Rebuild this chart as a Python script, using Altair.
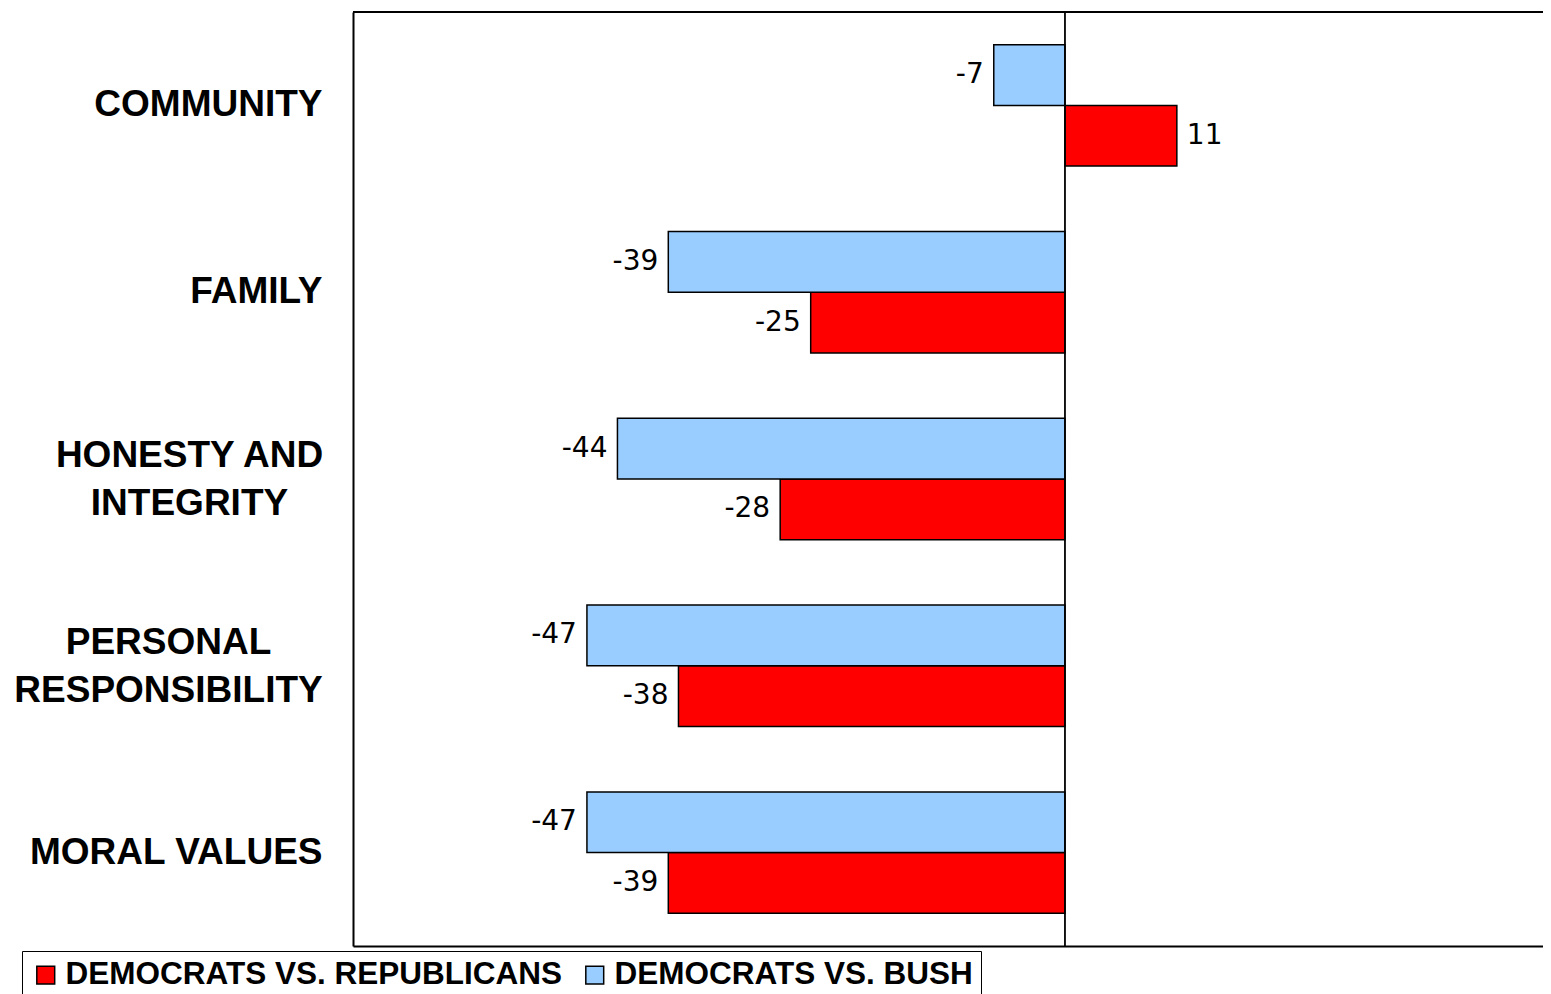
import altair as alt
import pandas as pd

categories = ["COMMUNITY", "FAMILY", "HONESTY AND|INTEGRITY", "PERSONAL|RESPONSIBILITY", "MORAL VALUES"]
series_names = ["DEMOCRATS VS. REPUBLICANS", "DEMOCRATS VS. BUSH"]
dem_vs_rep = [11, -25, -28, -38, -39]
dem_vs_bush = [-7, -39, -44, -47, -47]
colors = ["#FF0000", "#99CCFF"]

rows = []
for i, c in enumerate(categories):
    rows.append({"category": c, "series": series_names[0], "value": dem_vs_rep[i]})
    rows.append({"category": c, "series": series_names[1], "value": dem_vs_bush[i]})
df = pd.DataFrame(rows)

W, H = 1190, 934

multi_test = "indexof(datum.value, '|') >= 0"
label_align = {"condition": {"test": multi_test, "value": "center"}, "value": "right"}
label_offset = {"condition": {"test": multi_test, "value": -23}, "value": 0}
label_padding = {
    "condition": [
        {"test": "datum.value == 'HONESTY AND|INTEGRITY'", "value": 164},
        {"test": "datum.value == 'PERSONAL|RESPONSIBILITY'", "value": 185},
    ],
    "value": 31,
}

y_enc = alt.Y(
    "category:N",
    sort=categories,
    scale=alt.Scale(paddingInner=0.35, paddingOuter=0.175),
    axis=alt.Axis(
        title=None, ticks=False, tickSize=0, grid=False,
        domainColor="black", domainWidth=2,
        labelFont="Liberation Sans", labelFontWeight="bold", labelFontSize=37,
        labelColor="black", labelLineHeight=48, labelLimit=0,
        labelExpr="split(datum.value, '|')",
        labelAlign=label_align, labelPadding=label_padding, labelOffset=label_offset,
    ),
)
yoff = alt.YOffset(
    "series:N", sort=[series_names[1], series_names[0]],
    scale=alt.Scale(paddingInner=0, paddingOuter=0),
)
x_enc = alt.X(
    "value:Q",
    scale=alt.Scale(domain=[-70, 47], nice=False, zero=False),
    axis=alt.Axis(title=None, labels=False, ticks=False, grid=False,
                  domainColor="black", domainWidth=2),
)

base = alt.Chart(df).transform_calculate(txt="toString(datum.value)")

bars = base.mark_bar(stroke="black", strokeWidth=1.5).encode(
    x=x_enc, y=y_enc, yOffset=yoff,
    color=alt.Color(
        "series:N",
        scale=alt.Scale(domain=series_names, range=colors),
        legend=alt.Legend(
            title=None, orient="none", direction="horizontal",
            legendX=-331, legendY=939,
            symbolType="square", symbolSize=320,
            symbolStrokeColor="black", symbolStrokeWidth=1.5,
            labelFont="Liberation Sans", labelFontWeight="bold",
            labelFontSize=31.5, labelColor="black", labelLimit=0, labelOffset=4,
            columnPadding=17, padding=8, strokeColor="black",
        ),
    ),
)

neg_text = base.transform_filter("datum.value < 0").mark_text(
    align="right", baseline="middle", dx=-10, font="DejaVu Sans", fontSize=28, color="black"
).encode(x="value:Q", y=alt.Y("category:N", sort=categories), yOffset=yoff, text="txt:N")

pos_text = base.transform_filter("datum.value >= 0").mark_text(
    align="left", baseline="middle", dx=10, font="DejaVu Sans", fontSize=28, color="black"
).encode(x="value:Q", y=alt.Y("category:N", sort=categories), yOffset=yoff, text="txt:N")

one = pd.DataFrame({"z": [0]})
zero_line = alt.Chart(one).mark_rule(color="black", strokeWidth=1.8).encode(
    x=alt.datum(0, type="quantitative")
)
top_line = alt.Chart(one).mark_rule(color="black", strokeWidth=2).encode(
    x=alt.value(0), x2=alt.value(W), y=alt.value(0)
)

chart = alt.layer(bars, zero_line, top_line, neg_text, pos_text).properties(
    width=W, height=H,
    autosize=alt.AutoSizeParams(type="none"),
    padding={"left": 345, "top": 4, "right": 0, "bottom": 48},
).configure_view(stroke=None).configure_legend(strokeWidth=2).configure(background="white")

chart.save("out.html", embed_options={"renderer": "svg", "actions": False})
